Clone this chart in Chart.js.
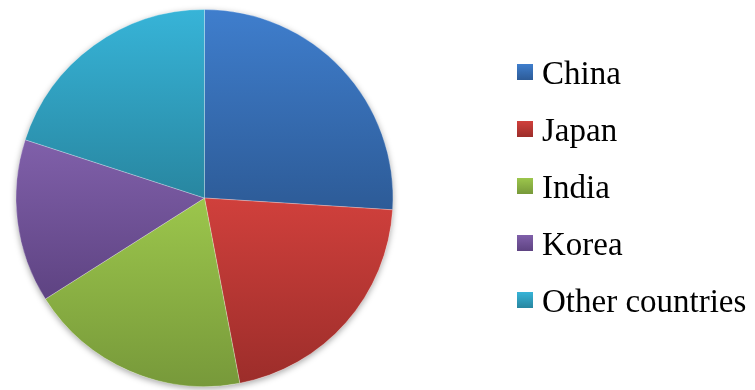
<!DOCTYPE html>
<html>
<head>
<meta charset="utf-8">
<script src="https://cdn.jsdelivr.net/npm/chart.js@4.4.1/dist/chart.umd.min.js"></script>
<style>
  html, body { margin: 0; padding: 0; background: #fff; }
  #wrap { position: relative; width: 755px; height: 390px; }
  #legend {
    position: absolute; left: 517px; top: 43px;
    margin: 0; padding: 0; list-style: none;
    font-family: "Liberation Serif", "Times New Roman", serif;
    font-size: 33px; color: #000;
  }
  #legend li { height: 57px; display: flex; align-items: center; line-height: 1; white-space: nowrap; }
  #legend .box { width: 16px; height: 16px; margin-right: 9px; flex: none; }
  #legend .txt { position: relative; top: 2px; }
</style>
</head>
<body>
<div id="wrap">
  <canvas id="chart" width="755" height="390"></canvas>
  <ul id="legend"></ul>
</div>
<script>
const countries = ['China', 'Japan', 'India', 'Korea', 'Other countries'];
const shares = [26, 21, 19, 14, 20];
// light (top) and dark (bottom) shade of each slice
const colorsTop = ['#3f7ecd', '#d0403c', '#9cc64c', '#8060aa', '#37b4d8'];
const colorsBottom = ['#2d5b97', '#9c2d2a', '#77993a', '#5e4382', '#2886a0'];

function sliceGradient(ctx) {
  const chart = ctx.chart;
  const area = chart.chartArea;
  const i = ctx.dataIndex;
  if (!area || i === undefined) return colorsTop[i || 0];
  const cx = (area.left + area.right) / 2;
  const cy = (area.top + area.bottom) / 2;
  const r = Math.min(area.right - area.left, area.bottom - area.top) / 2;
  const total = shares.reduce((a, b) => a + b, 0);
  const before = shares.slice(0, i).reduce((a, b) => a + b, 0);
  const start = -Math.PI / 2 + 2 * Math.PI * before / total;
  const end = start + 2 * Math.PI * shares[i] / total;
  const ys = [cy, cy + r * Math.sin(start), cy + r * Math.sin(end)];
  [-Math.PI / 2, Math.PI / 2, 3 * Math.PI / 2].forEach((a) => {
    if (a >= start && a <= end) ys.push(cy + r * Math.sin(a));
  });
  const g = chart.ctx.createLinearGradient(0, Math.min(...ys), 0, Math.max(...ys));
  g.addColorStop(0, colorsTop[i]);
  g.addColorStop(1, colorsBottom[i]);
  return g;
}

// soft shadow under the pie
const pieShadow = {
  id: 'pieShadow',
  beforeDatasetsDraw(chart) {
    const arc = chart.getDatasetMeta(0).data[0];
    if (!arc) return;
    const c = chart.ctx;
    c.save();
    c.shadowColor = 'rgba(0,0,0,0.35)';
    c.shadowBlur = 6;
    c.shadowOffsetY = 2;
    c.fillStyle = '#fff';
    c.beginPath();
    c.arc(arc.x, arc.y, arc.outerRadius, 0, Math.PI * 2);
    c.fill();
    c.restore();
  }
};

new Chart(document.getElementById('chart'), {
  type: 'pie',
  data: {
    labels: countries,
    datasets: [{
      data: shares,
      backgroundColor: sliceGradient,
      borderColor: 'rgba(255,255,255,0.25)',
      borderWidth: 1,
    }],
  },
  options: {
    responsive: false,
    animation: false,
    events: [],
    layout: { padding: { left: 15, top: 9, right: 361, bottom: 3 } },
    plugins: {
      legend: { display: false },
      tooltip: { enabled: false },
    },
  },
  plugins: [pieShadow],
});

const legend = document.getElementById('legend');
countries.forEach((name, i) => {
  const li = document.createElement('li');
  li.innerHTML = `<span class="box" style="background:linear-gradient(${colorsTop[i]}, ${colorsBottom[i]})"></span><span class="txt">${name}</span>`;
  legend.appendChild(li);
});
</script>
</body>
</html>
